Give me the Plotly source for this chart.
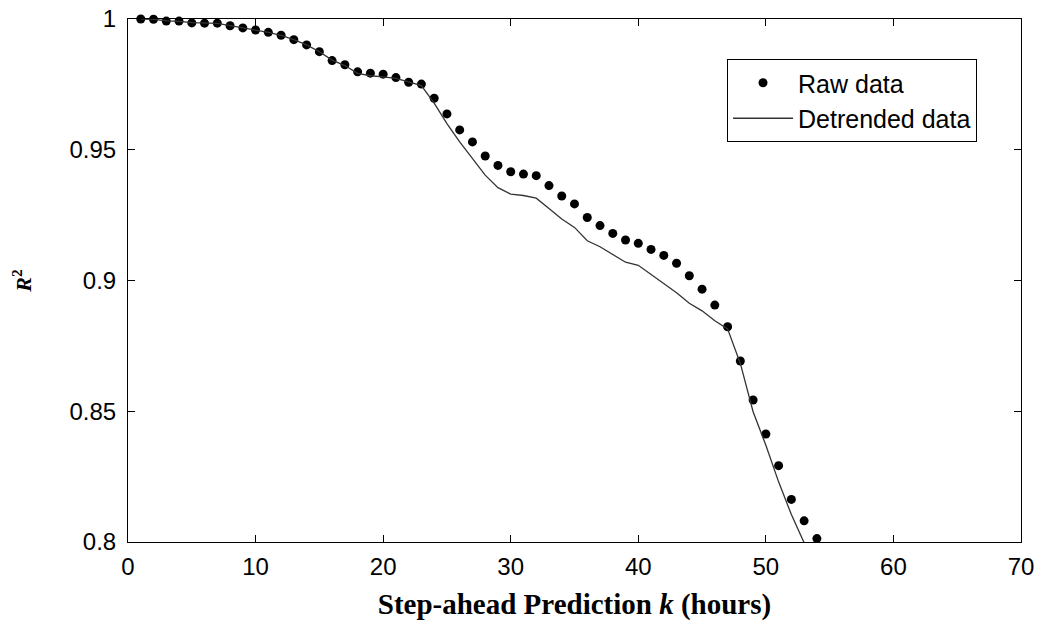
import plotly.graph_objects as go

# Step-ahead horizon k (hours)
k_raw = list(range(1, 55))
r2_raw = [1.0000, 0.9999, 0.9992, 0.9992, 0.9985, 0.9984, 0.9984, 0.9974, 0.9966, 0.9958,
          0.9949, 0.9938, 0.9921, 0.9901, 0.9875, 0.9841, 0.9825, 0.9798, 0.9793, 0.9789,
          0.9776, 0.9758, 0.9751, 0.9697, 0.9637, 0.9576, 0.9530, 0.9476, 0.9440, 0.9416,
          0.9407, 0.9401, 0.9363, 0.9323, 0.9293, 0.9241, 0.9210, 0.9180, 0.9155, 0.9142,
          0.9119, 0.9096, 0.9066, 0.9018, 0.8967, 0.8906, 0.8823, 0.8692, 0.8543, 0.8413,
          0.8292, 0.8163, 0.8081, 0.8013]

k_det = list(range(1, 54))
r2_det = [1.0000, 0.9999, 0.9993, 0.9991, 0.9986, 0.9985, 0.9983, 0.9975, 0.9966, 0.9958,
          0.9949, 0.9937, 0.9921, 0.9901, 0.9875, 0.9843, 0.9822, 0.9792, 0.9783, 0.9779,
          0.9773, 0.9760, 0.9745, 0.9678, 0.9600, 0.9530, 0.9465, 0.9403, 0.9355, 0.9330,
          0.9325, 0.9315, 0.9275, 0.9235, 0.9203, 0.9152, 0.9129, 0.9100, 0.9070, 0.9058,
          0.9022, 0.8988, 0.8953, 0.8913, 0.8884, 0.8846, 0.8815, 0.8683, 0.8498, 0.8370,
          0.8230, 0.8105, 0.7997]

x_ticks = [0, 10, 20, 30, 40, 50, 60, 70]
y_ticks = [0.8, 0.85, 0.9, 0.95, 1.0]
y_tick_text = ["0.8", "0.85", "0.9", "0.95", "1"]

fig = go.Figure()
fig.add_trace(go.Scatter(
    x=k_raw, y=r2_raw, mode="markers", name="Raw data",
    marker=dict(color="black", size=9, line=dict(width=0)),
    cliponaxis=False,
))
fig.add_trace(go.Scatter(
    x=k_det, y=r2_det, mode="lines", name="Detrended data",
    line=dict(color="#333333", width=1.3),
))

axis_common = dict(
    showgrid=False, zeroline=False, showline=True, linecolor="black", linewidth=1,
    mirror="ticks", ticks="inside", ticklen=7, tickcolor="black", tickwidth=1,
    automargin=False, ticklabeloverflow="allow",
    tickfont=dict(family="Liberation Sans, Arial, sans-serif", size=24, color="black"),
)

fig.update_xaxes(
    range=[0, 70], tickvals=x_ticks, ticklabelstandoff=3,
    title=dict(text="<b>Step-ahead Prediction <i>k</i> (hours)</b>",
               font=dict(family="Liberation Serif, Times New Roman, serif", size=29, color="black"),
               standoff=14),
    **axis_common,
)
fig.update_yaxes(
    range=[0.8, 1.0], tickvals=y_ticks, ticktext=y_tick_text, ticklabelstandoff=6,
    title=dict(text="<b><i>R</i><sup>2</sup></b>",
               font=dict(family="Liberation Serif, Times New Roman, serif", size=22, color="black"),
               standoff=32),
    **axis_common,
)

fig.update_layout(
    width=1044, height=634,
    margin=dict(l=120, r=31, t=11, b=100),
    paper_bgcolor="white", plot_bgcolor="white",
    showlegend=True,
    legend=dict(
        x=0.6708, y=0.9235, xanchor="left", yanchor="top",
        bgcolor="white", bordercolor="black", borderwidth=1,
        font=dict(family="Liberation Sans, Arial, sans-serif", size=25, color="black"),
        itemwidth=60, tracegroupgap=0,
    ),
)

fig.write_html("out.html")
